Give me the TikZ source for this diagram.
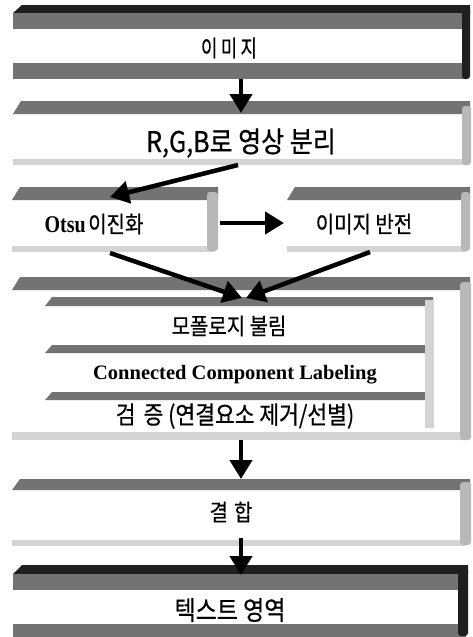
\documentclass[tikz,border=0pt]{standalone}
\usepackage{fontspec}
\usepackage{graphicx}
\setmainfont{Liberation Serif}
\newfontfamily\kr[FakeBold=0.6]{Noto Sans CJK KR}
\usetikzlibrary{arrows.meta}
\newcommand{\kfs}[1]{\kr\fontsize{#1}{#1}\selectfont}
\newcommand{\lfs}[1]{\bfseries\fontsize{#1}{#1}\selectfont}
\newcommand{\ktx}[2]{{\kfs{#1}\scalebox{1}[1.15]{#2}}}
\begin{document}
\begin{tikzpicture}[x=1pt,y=-1pt,
  darkband/.style={fill=black!88},
  midband/.style={fill=black!55},
  lightband/.style={fill=black!17},
  sideband/.style={fill=black!28},
  ar/.style={line width=4.5pt,-{Triangle[width=22pt,length=19pt]}},
  ktext/.style={inner sep=0pt,text=black}]
\useasboundingbox[fill=white] (0,0) rectangle (472,637);

% ---------- box 1 : 이미지
\fill[darkband] (22,5) -- (470,5) -- (470,13) -- (13,13) -- cycle;
\fill[midband] (13,13) rectangle (463,29);
\fill[midband] (13,63) rectangle (466,79);
\fill[darkband,rounded corners=3pt] (462,6) -- (470,6) -- (470,79) -- (462,79) -- cycle;
\node[ktext] (img) at (229,48) {{\kfs{21}\scalebox{0.85}[1.1]{이\hspace{4pt}미\hspace{4pt}지}}};

% ---------- box 2 : RGB
\fill[midband] (21,101) -- (470,101) -- (470,114) -- (13,114) -- cycle;
\fill[lightband] (13,159) rectangle (466,165);
\fill[sideband,rounded corners=3pt] (462,106) -- (471,106) -- (471,165) -- (462,165) -- cycle;
\node[ktext] (rgb) at (241,143) {\ktx{25}{R,G,B로 영상 분리}};

% ---------- box 3 : Otsu
\fill[midband] (20,187) -- (218,187) -- (218,200) -- (12,200) -- cycle;
\fill[lightband] (12,246) rectangle (214,252);
\fill[sideband,rounded corners=3pt] (207,192) -- (218,192) -- (218,251) -- (207,251) -- cycle;
\node[ktext] (otsu) at (94,224) {{\lfs{20}\scalebox{1}[1.2]{Otsu}} \ktx{20}{이진화}};

% ---------- box 4 : 이미지 반전
\fill[midband] (295,187) -- (470,187) -- (470,200) -- (287,200) -- cycle;
\fill[lightband] (287,246) rectangle (466,252);
\fill[sideband,rounded corners=3pt] (461,192) -- (470,192) -- (470,251) -- (461,251) -- cycle;
\node[ktext] (inv) at (364,224) {\ktx{20}{이미지 반전}};

% ---------- big box
\fill[midband] (20,277) -- (470,277) -- (470,290) -- (12,290) -- cycle;
\fill[midband] (52,297) -- (433,297) -- (433,306) -- (45,306) -- cycle;
\fill[midband] (52,345) -- (433,345) -- (433,353) -- (45,353) -- cycle;
\fill[midband] (52,392) -- (433,392) -- (433,400) -- (45,400) -- cycle;
\fill[lightband] (425,300) rectangle (434,428);
\fill[lightband] (12,432) rectangle (466,440);
\fill[sideband,rounded corners=3pt] (460,282) -- (471,282) -- (471,440) -- (460,440) -- cycle;
\node[ktext] (mor) at (229,326) {\ktx{20}{모폴로지 불림}};
\node[ktext,font=\lfs{20.5}] (ccl) at (235,375) {Connected Component Labeling};
\node[ktext] (ver) at (235,416) {\ktx{21.5}{검\hspace{8pt}증 (연결요소 제거/선별)}};

% ---------- box 결합
\fill[midband] (20,479) -- (470,479) -- (470,490) -- (12,490) -- cycle;
\fill[lightband] (12,540) rectangle (466,546);
\fill[sideband,rounded corners=3pt] (460,482) -- (471,482) -- (471,545) -- (460,545) -- cycle;
\node[ktext] (com) at (231,512) {\ktx{20}{결\hspace{6pt}합}};

% ---------- box 텍스트 영역
\fill[darkband] (22,565) -- (468,565) -- (468,574) -- (13,574) -- cycle;
\fill[midband] (13,574) rectangle (462,590);
\fill[midband] (13,624) rectangle (466,637);
\fill[darkband,rounded corners=3pt] (458,567) -- (468,567) -- (468,636) -- (458,636) -- cycle;
\node[ktext] (txt) at (230,610) {\ktx{23}{텍스트 영역}};

% ---------- arrow end points
\coordinate (a1s) at (241,79);   \coordinate (a1e) at (241,113);
\coordinate (a2s) at (238,165);  \coordinate (a2e) at (110,197);
\coordinate (a3s) at (220,223);  \coordinate (a3e) at (284,223);
\coordinate (a4s) at (110,253);  \coordinate (a4e) at (242,298);
\coordinate (a5s) at (370,252);  \coordinate (a5e) at (246,298);
\coordinate (a6s) at (241,440);  \coordinate (a6e) at (241,479);
\coordinate (a7s) at (241,538);  \coordinate (a7e) at (241,575);

\draw[ar] (a1s) -- (a1e);
\draw[ar] (a2s) -- (a2e);
\draw[ar] (a3s) -- (a3e);
\draw[ar] (a4s) -- (a4e);
\draw[ar] (a5s) -- (a5e);
\draw[ar] (a6s) -- (a6e);
\draw[ar] (a7s) -- (a7e);
\end{tikzpicture}
\end{document}
